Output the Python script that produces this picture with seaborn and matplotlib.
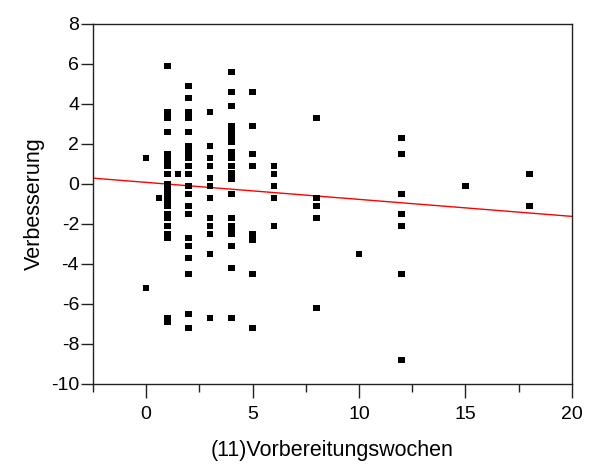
import numpy as np
import pandas as pd
import matplotlib
matplotlib.use("Agg")
import matplotlib.pyplot as plt
import seaborn as sns
from matplotlib.ticker import MultipleLocator

# Data
wochen = ([0, 0, 0.6, 1.5]
          + [1] * 22
          + [2] * 20
          + [3] * 12
          + [4] * 20
          + [5] * 8
          + [6] * 5
          + [8] * 5
          + [10]
          + [12] * 7
          + [15]
          + [18] * 2)
verbesserung = ([1.3, -5.2, -0.7, 0.5]
                # x = 1
                + [5.9, 3.6, 3.3, 2.6, 1.5, 1.3, 0.9, 0.5, -0.1, -0.5, -0.8,
                   -1.1, -1.5, -1.7, -2.1, -2.5, -2.7, -6.7, -6.9, 0.0, -0.3, 1.1]
                # x = 2
                + [4.9, 4.3, 3.6, 3.3, 2.6, 1.9, 1.6, 1.3, 0.9, 0.5, -0.1,
                   -0.5, -1.1, -1.5, -2.7, -3.1, -3.7, -4.5, -6.5, -7.2]
                # x = 3
                + [3.6, 1.9, 1.3, 0.9, 0.3, -0.1, -0.7, -1.7, -2.1, -2.5,
                   -3.5, -6.7]
                # x = 4
                + [5.6, 4.6, 3.9, 2.9, 2.6, 2.3, 1.6, 1.3, 0.9, 0.55, 0.27,
                   -0.5, -1.7, -2.1, -2.5, -3.1, -4.2, -6.7, 2.1, -2.3]
                # x = 5
                + [4.6, 2.9, 1.5, 0.9, -2.5, -2.8, -4.5, -7.2]
                # x = 6
                + [0.9, 0.5, -0.1, -0.7, -2.1]
                # x = 8
                + [3.3, -0.7, -1.1, -1.7, -6.2]
                # x = 10
                + [-3.5]
                # x = 12
                + [2.3, 1.5, -0.5, -1.5, -2.1, -4.5, -8.8]
                # x = 15
                + [-0.1]
                # x = 18
                + [0.5, -1.1])

# Fitted regression line
fit_intercept = 0.08
fit_slope = -0.085

x_label = "(11)Vorbereitungswochen"
y_label = "Verbesserung"
x_ticks = [0, 5, 10, 15, 20]
y_ticks = [-10, -8, -6, -4, -2, 0, 2, 4, 6, 8]

df = pd.DataFrame({"x": wochen, "y": verbesserung})

sns.set_theme(style="white")
plt.rcParams["font.family"] = ["Liberation Sans", "DejaVu Sans"]
plt.rcParams["axes.unicode_minus"] = False
plt.rcParams["text.color"] = "black"
plt.rcParams["axes.labelcolor"] = "black"
plt.rcParams["xtick.color"] = "black"
plt.rcParams["ytick.color"] = "black"

fig = plt.figure(figsize=(5.92, 4.70), dpi=100)
ax = fig.add_axes([0.157, 0.183, 0.809, 0.766])
ax.set_xlim(-2.5, 20)
ax.set_ylim(-10, 8)

sns.scatterplot(data=df, x="x", y="y", ax=ax, marker="s", s=22,
                color="black", edgecolor="none", linewidth=0, zorder=3)
ax.axline((0, fit_intercept), slope=fit_slope, color="red", linewidth=1.0,
          zorder=2)
ax.set_xlim(-2.5, 20)
ax.set_ylim(-10, 8)

ax.set_xticks(x_ticks)
ax.set_yticks(y_ticks)
ax.xaxis.set_minor_locator(MultipleLocator(2.5))
ax.tick_params(axis="x", which="major", direction="out", length=10, width=1,
               color="#222222", labelsize=14, pad=6, bottom=True)
ax.tick_params(axis="x", which="minor", direction="out", length=6, width=1,
               color="#222222", bottom=True)
ax.tick_params(axis="y", which="major", direction="out", length=9, width=1,
               color="#222222", labelsize=14, pad=1, left=True)
ax.set_xlabel(x_label, fontsize=15.5, labelpad=12)
ax.set_ylabel(y_label, fontsize=15.5, labelpad=4)
for sp in ax.spines.values():
    sp.set_visible(True)
    sp.set_color("#222222")
    sp.set_linewidth(1)
ax.grid(False)

fig.savefig("out.png", dpi=100)
